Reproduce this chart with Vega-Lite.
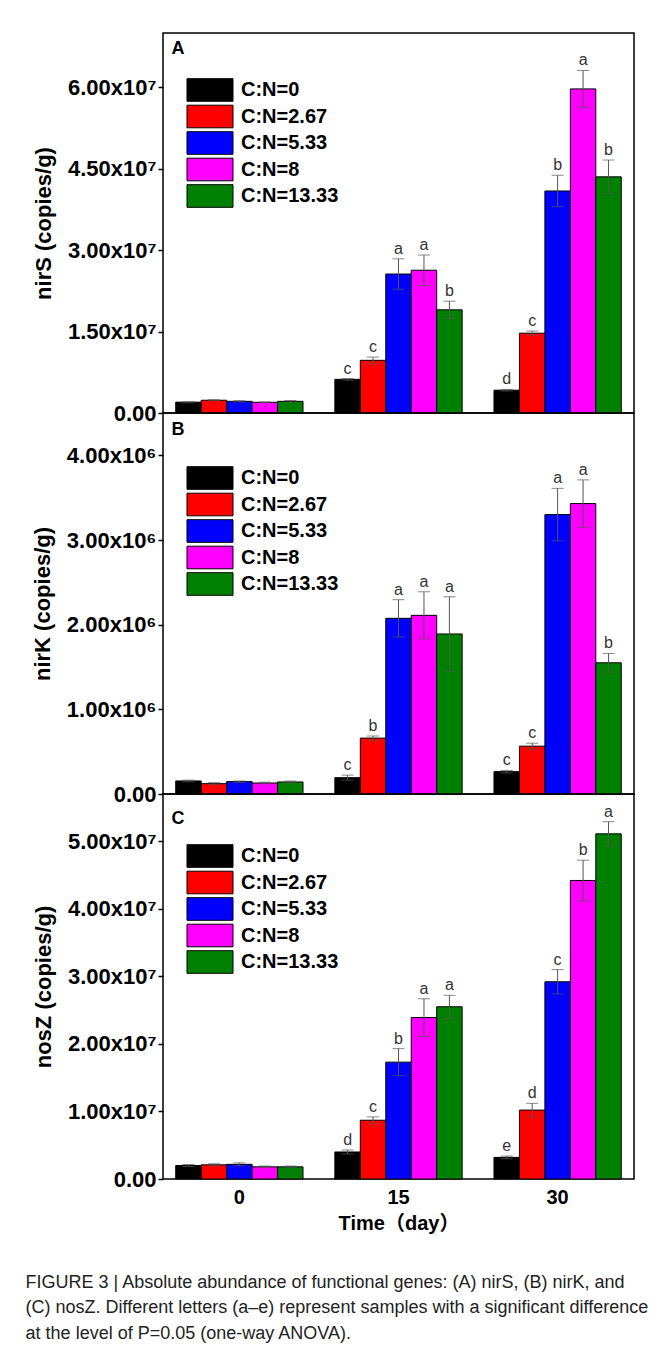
{
  "$schema": "https://vega.github.io/schema/vega-lite/v6.json",
  "background": "white",
  "padding": {"left": 25, "top": 32, "right": 5, "bottom": 5},
  "spacing": 0,
  "bounds": "flush",
  "title": {
    "text": [
      "FIGURE 3 | Absolute abundance of functional genes: (A) nirS, (B) nirK, and",
      "(C) nosZ. Different letters (a–e) represent samples with a significant difference",
      "at the level of P=0.05 (one-way ANOVA)."
    ],
    "orient": "bottom",
    "anchor": "start",
    "frame": "bounds",
    "dx": -5,
    "offset": 40,
    "font": "Liberation Sans",
    "fontSize": 18,
    "fontWeight": "normal",
    "lineHeight": 25.5,
    "color": "#222222"
  },
  "data": {
    "values": [
      {"gene": "nirS", "day": "0", "cn": "C:N=0", "mean": 2000000, "lo": 1900000, "hi": 2100000, "sig": ""},
      {"gene": "nirS", "day": "0", "cn": "C:N=2.67", "mean": 2350000, "lo": 2250000, "hi": 2450000, "sig": ""},
      {"gene": "nirS", "day": "0", "cn": "C:N=5.33", "mean": 2150000, "lo": 2030000, "hi": 2270000, "sig": ""},
      {"gene": "nirS", "day": "0", "cn": "C:N=8", "mean": 1970000, "lo": 1900000, "hi": 2040000, "sig": ""},
      {"gene": "nirS", "day": "0", "cn": "C:N=13.33", "mean": 2150000, "lo": 2000000, "hi": 2300000, "sig": ""},
      {"gene": "nirS", "day": "15", "cn": "C:N=0", "mean": 6200000, "lo": 6050000, "hi": 6350000, "sig": "c"},
      {"gene": "nirS", "day": "15", "cn": "C:N=2.67", "mean": 9700000, "lo": 9100000, "hi": 10300000, "sig": "c"},
      {"gene": "nirS", "day": "15", "cn": "C:N=5.33", "mean": 25600000, "lo": 22800000, "hi": 28400000, "sig": "a"},
      {"gene": "nirS", "day": "15", "cn": "C:N=8", "mean": 26300000, "lo": 23500000, "hi": 29100000, "sig": "a"},
      {"gene": "nirS", "day": "15", "cn": "C:N=13.33", "mean": 19000000, "lo": 17400000, "hi": 20600000, "sig": "b"},
      {"gene": "nirS", "day": "30", "cn": "C:N=0", "mean": 4200000, "lo": 4050000, "hi": 4350000, "sig": "d"},
      {"gene": "nirS", "day": "30", "cn": "C:N=2.67", "mean": 14700000, "lo": 14300000, "hi": 15100000, "sig": "c"},
      {"gene": "nirS", "day": "30", "cn": "C:N=5.33", "mean": 40900000, "lo": 38000000, "hi": 43800000, "sig": "b"},
      {"gene": "nirS", "day": "30", "cn": "C:N=8", "mean": 59700000, "lo": 56300000, "hi": 63100000, "sig": "a"},
      {"gene": "nirS", "day": "30", "cn": "C:N=13.33", "mean": 43500000, "lo": 40400000, "hi": 46600000, "sig": "b"},
      {"gene": "nirK", "day": "0", "cn": "C:N=0", "mean": 154000, "lo": 144000, "hi": 164000, "sig": ""},
      {"gene": "nirK", "day": "0", "cn": "C:N=2.67", "mean": 122000, "lo": 110000, "hi": 134000, "sig": ""},
      {"gene": "nirK", "day": "0", "cn": "C:N=5.33", "mean": 146000, "lo": 138000, "hi": 154000, "sig": ""},
      {"gene": "nirK", "day": "0", "cn": "C:N=8", "mean": 130000, "lo": 120000, "hi": 140000, "sig": ""},
      {"gene": "nirK", "day": "0", "cn": "C:N=13.33", "mean": 142000, "lo": 130000, "hi": 154000, "sig": ""},
      {"gene": "nirK", "day": "15", "cn": "C:N=0", "mean": 193000, "lo": 163000, "hi": 223000, "sig": "c"},
      {"gene": "nirK", "day": "15", "cn": "C:N=2.67", "mean": 660000, "lo": 635000, "hi": 685000, "sig": "b"},
      {"gene": "nirK", "day": "15", "cn": "C:N=5.33", "mean": 2075000, "lo": 1855000, "hi": 2295000, "sig": "a"},
      {"gene": "nirK", "day": "15", "cn": "C:N=8", "mean": 2110000, "lo": 1830000, "hi": 2390000, "sig": "a"},
      {"gene": "nirK", "day": "15", "cn": "C:N=13.33", "mean": 1890000, "lo": 1450000, "hi": 2330000, "sig": "a"},
      {"gene": "nirK", "day": "30", "cn": "C:N=0", "mean": 264000, "lo": 249000, "hi": 279000, "sig": "c"},
      {"gene": "nirK", "day": "30", "cn": "C:N=2.67", "mean": 565000, "lo": 530000, "hi": 600000, "sig": "c"},
      {"gene": "nirK", "day": "30", "cn": "C:N=5.33", "mean": 3300000, "lo": 2990000, "hi": 3610000, "sig": "a"},
      {"gene": "nirK", "day": "30", "cn": "C:N=8", "mean": 3430000, "lo": 3150000, "hi": 3710000, "sig": "a"},
      {"gene": "nirK", "day": "30", "cn": "C:N=13.33", "mean": 1550000, "lo": 1440000, "hi": 1660000, "sig": "b"},
      {"gene": "nosZ", "day": "0", "cn": "C:N=0", "mean": 2000000, "lo": 1850000, "hi": 2150000, "sig": ""},
      {"gene": "nosZ", "day": "0", "cn": "C:N=2.67", "mean": 2100000, "lo": 1950000, "hi": 2250000, "sig": ""},
      {"gene": "nosZ", "day": "0", "cn": "C:N=5.33", "mean": 2170000, "lo": 1950000, "hi": 2390000, "sig": ""},
      {"gene": "nosZ", "day": "0", "cn": "C:N=8", "mean": 1800000, "lo": 1680000, "hi": 1920000, "sig": ""},
      {"gene": "nosZ", "day": "0", "cn": "C:N=13.33", "mean": 1800000, "lo": 1680000, "hi": 1920000, "sig": ""},
      {"gene": "nosZ", "day": "15", "cn": "C:N=0", "mean": 4000000, "lo": 3700000, "hi": 4300000, "sig": "d"},
      {"gene": "nosZ", "day": "15", "cn": "C:N=2.67", "mean": 8700000, "lo": 8200000, "hi": 9200000, "sig": "c"},
      {"gene": "nosZ", "day": "15", "cn": "C:N=5.33", "mean": 17300000, "lo": 15300000, "hi": 19300000, "sig": "b"},
      {"gene": "nosZ", "day": "15", "cn": "C:N=8", "mean": 23900000, "lo": 21100000, "hi": 26700000, "sig": "a"},
      {"gene": "nosZ", "day": "15", "cn": "C:N=13.33", "mean": 25500000, "lo": 23800000, "hi": 27200000, "sig": "a"},
      {"gene": "nosZ", "day": "30", "cn": "C:N=0", "mean": 3200000, "lo": 3000000, "hi": 3400000, "sig": "e"},
      {"gene": "nosZ", "day": "30", "cn": "C:N=2.67", "mean": 10200000, "lo": 9200000, "hi": 11200000, "sig": "d"},
      {"gene": "nosZ", "day": "30", "cn": "C:N=5.33", "mean": 29200000, "lo": 27400000, "hi": 31000000, "sig": "c"},
      {"gene": "nosZ", "day": "30", "cn": "C:N=8", "mean": 44200000, "lo": 41200000, "hi": 47200000, "sig": "b"},
      {"gene": "nosZ", "day": "30", "cn": "C:N=13.33", "mean": 51100000, "lo": 49300000, "hi": 52900000, "sig": "a"}
    ]
  },
  "resolve": {"scale": {"y": "independent"}, "legend": {"color": "independent"}},
  "vconcat": [
    {
      "width": 471,
      "height": 380,
      "transform": [{"filter": "datum.gene == 'nirS'"}],
      "encoding": {
        "x": {"field": "day", "type": "nominal", "sort": ["0", "15", "30"], "scale": {"paddingInner": 0.2, "paddingOuter": 0.08}, "axis": null},
        "xOffset": {"field": "cn", "type": "nominal", "sort": ["C:N=0", "C:N=2.67", "C:N=5.33", "C:N=8", "C:N=13.33"], "scale": {"paddingInner": 0, "paddingOuter": 0}}
      },
      "layer": [
        {
          "mark": {"type": "bar", "stroke": "black", "strokeWidth": 1},
          "encoding": {
            "y": {"field": "mean", "type": "quantitative", "title": "nirS (copies/g)", "scale": {"domain": [0, 70000000], "nice": false},
              "axis": {"values": [0, 15000000, 30000000, 45000000, 60000000], "labelExpr": "datum.value == 0 ? '0.00' : format(datum.value/1e7, '.2f') + 'x10⁷'"}},
            "color": {"field": "cn", "type": "nominal", "sort": ["C:N=0", "C:N=2.67", "C:N=5.33", "C:N=8", "C:N=13.33"],
              "scale": {"domain": ["C:N=0", "C:N=2.67", "C:N=5.33", "C:N=8", "C:N=13.33"], "range": ["#000000", "#ff0000", "#0000ff", "#ff00ff", "#008000"]},
              "legend": {"orient": "none", "legendX": 35, "legendY": 45}}
          }
        },
        {"mark": {"type": "rule", "color": "#555555", "strokeWidth": 1}, "encoding": {"y": {"field": "lo", "type": "quantitative", "title": "nirS (copies/g)"}, "y2": {"field": "hi"}}},
        {"mark": {"type": "tick", "color": "#555555", "thickness": 1, "size": 12}, "encoding": {"y": {"field": "hi", "type": "quantitative", "title": "nirS (copies/g)"}}},
        {"mark": {"type": "tick", "color": "#555555", "thickness": 1, "size": 12}, "encoding": {"y": {"field": "lo", "type": "quantitative", "title": "nirS (copies/g)"}}},
        {"mark": {"type": "text", "baseline": "bottom", "dy": -2, "fontSize": 16, "color": "#333333", "font": "Liberation Sans"}, "encoding": {"y": {"field": "hi", "type": "quantitative", "title": "nirS (copies/g)"}, "text": {"field": "sig"}}},
        {"transform": [{"filter": "datum.day == '0' && datum.cn == 'C:N=0'"}],
         "mark": {"type": "text", "text": "A", "align": "left", "baseline": "top", "dx": -17, "fontSize": 18, "fontWeight": "bold", "color": "black", "font": "Liberation Sans"},
         "encoding": {"y": {"datum": 68800000, "type": "quantitative"}}}
      ]
    },
    {
      "width": 471,
      "height": 381,
      "transform": [{"filter": "datum.gene == 'nirK'"}],
      "encoding": {
        "x": {"field": "day", "type": "nominal", "sort": ["0", "15", "30"], "scale": {"paddingInner": 0.2, "paddingOuter": 0.08}, "axis": null},
        "xOffset": {"field": "cn", "type": "nominal", "sort": ["C:N=0", "C:N=2.67", "C:N=5.33", "C:N=8", "C:N=13.33"], "scale": {"paddingInner": 0, "paddingOuter": 0}}
      },
      "layer": [
        {
          "mark": {"type": "bar", "stroke": "black", "strokeWidth": 1},
          "encoding": {
            "y": {"field": "mean", "type": "quantitative", "title": "nirK (copies/g)", "scale": {"domain": [0, 4500000], "nice": false},
              "axis": {"values": [0, 1000000, 2000000, 3000000, 4000000], "labelExpr": "datum.value == 0 ? '0.00' : format(datum.value/1e6, '.2f') + 'x10⁶'"}},
            "color": {"field": "cn", "type": "nominal", "sort": ["C:N=0", "C:N=2.67", "C:N=5.33", "C:N=8", "C:N=13.33"],
              "scale": {"domain": ["C:N=0", "C:N=2.67", "C:N=5.33", "C:N=8", "C:N=13.33"], "range": ["#000000", "#ff0000", "#0000ff", "#ff00ff", "#008000"]},
              "legend": {"orient": "none", "legendX": 35, "legendY": 53}}
          }
        },
        {"mark": {"type": "rule", "color": "#555555", "strokeWidth": 1}, "encoding": {"y": {"field": "lo", "type": "quantitative", "title": "nirK (copies/g)"}, "y2": {"field": "hi"}}},
        {"mark": {"type": "tick", "color": "#555555", "thickness": 1, "size": 12}, "encoding": {"y": {"field": "hi", "type": "quantitative", "title": "nirK (copies/g)"}}},
        {"mark": {"type": "tick", "color": "#555555", "thickness": 1, "size": 12}, "encoding": {"y": {"field": "lo", "type": "quantitative", "title": "nirK (copies/g)"}}},
        {"mark": {"type": "text", "baseline": "bottom", "dy": -2, "fontSize": 16, "color": "#333333", "font": "Liberation Sans"}, "encoding": {"y": {"field": "hi", "type": "quantitative", "title": "nirK (copies/g)"}, "text": {"field": "sig"}}},
        {"transform": [{"filter": "datum.day == '0' && datum.cn == 'C:N=0'"}],
         "mark": {"type": "text", "text": "B", "align": "left", "baseline": "top", "dx": -17, "fontSize": 18, "fontWeight": "bold", "color": "black", "font": "Liberation Sans"},
         "encoding": {"y": {"datum": 4410000, "type": "quantitative"}}}
      ]
    },
    {
      "width": 471,
      "height": 385,
      "transform": [{"filter": "datum.gene == 'nosZ'"}],
      "encoding": {
        "x": {"field": "day", "type": "nominal", "sort": ["0", "15", "30"], "scale": {"paddingInner": 0.2, "paddingOuter": 0.08},
          "axis": {"title": "Time（day）", "labelAngle": 0, "ticks": false, "domain": false, "labelFontSize": 20, "labelFontWeight": "bold", "labelPadding": 8, "titleFontSize": 20, "titleFontWeight": "bold", "titlePadding": 6, "labelColor": "black", "titleColor": "black", "labelFont": "Liberation Sans", "titleFont": "Liberation Sans, Noto Sans CJK SC"}},
        "xOffset": {"field": "cn", "type": "nominal", "sort": ["C:N=0", "C:N=2.67", "C:N=5.33", "C:N=8", "C:N=13.33"], "scale": {"paddingInner": 0, "paddingOuter": 0}}
      },
      "layer": [
        {
          "mark": {"type": "bar", "stroke": "black", "strokeWidth": 1},
          "encoding": {
            "y": {"field": "mean", "type": "quantitative", "title": "nosZ (copies/g)", "scale": {"domain": [0, 57000000], "nice": false},
              "axis": {"values": [0, 10000000, 20000000, 30000000, 40000000, 50000000], "labelExpr": "datum.value == 0 ? '0.00' : format(datum.value/1e7, '.2f') + 'x10⁷'"}},
            "color": {"field": "cn", "type": "nominal", "sort": ["C:N=0", "C:N=2.67", "C:N=5.33", "C:N=8", "C:N=13.33"],
              "scale": {"domain": ["C:N=0", "C:N=2.67", "C:N=5.33", "C:N=8", "C:N=13.33"], "range": ["#000000", "#ff0000", "#0000ff", "#ff00ff", "#008000"]},
              "legend": {"orient": "none", "legendX": 35, "legendY": 50}}
          }
        },
        {"mark": {"type": "rule", "color": "#555555", "strokeWidth": 1}, "encoding": {"y": {"field": "lo", "type": "quantitative", "title": "nosZ (copies/g)"}, "y2": {"field": "hi"}}},
        {"mark": {"type": "tick", "color": "#555555", "thickness": 1, "size": 12}, "encoding": {"y": {"field": "hi", "type": "quantitative", "title": "nosZ (copies/g)"}}},
        {"mark": {"type": "tick", "color": "#555555", "thickness": 1, "size": 12}, "encoding": {"y": {"field": "lo", "type": "quantitative", "title": "nosZ (copies/g)"}}},
        {"mark": {"type": "text", "baseline": "bottom", "dy": -2, "fontSize": 16, "color": "#333333", "font": "Liberation Sans"}, "encoding": {"y": {"field": "hi", "type": "quantitative", "title": "nosZ (copies/g)"}, "text": {"field": "sig"}}},
        {"transform": [{"filter": "datum.day == '0' && datum.cn == 'C:N=0'"}],
         "mark": {"type": "text", "text": "C", "align": "left", "baseline": "top", "dx": -17, "fontSize": 18, "fontWeight": "bold", "color": "black", "font": "Liberation Sans"},
         "encoding": {"y": {"datum": 54700000, "type": "quantitative"}}}
      ]
    }
  ],
  "config": {
    "font": "Liberation Sans",
    "view": {"stroke": "black", "strokeWidth": 1.5},
    "axisY": {
      "grid": false, "domain": false, "tickColor": "black", "tickSize": 5, "tickWidth": 1.5,
      "labelFont": "Liberation Sans", "labelFontSize": 22, "labelFontWeight": "bold", "labelColor": "black", "labelPadding": 2,
      "titleFont": "Liberation Sans", "titleFontSize": 22, "titleFontWeight": "bold", "titleColor": "black", "titlePadding": 12
    },
    "axisX": {"grid": false},
    "legend": {
      "title": null,
      "symbolType": "M-2.035,-1H2.035V1H-2.035Z",
      "symbolSize": 511,
      "symbolStrokeColor": "black",
      "symbolStrokeWidth": 1,
      "symbolOpacity": 1,
      "labelFont": "Liberation Sans",
      "labelFontSize": 20,
      "labelFontWeight": "bold",
      "labelColor": "black",
      "labelOffset": 19,
      "rowPadding": -1.5
    }
  }
}
